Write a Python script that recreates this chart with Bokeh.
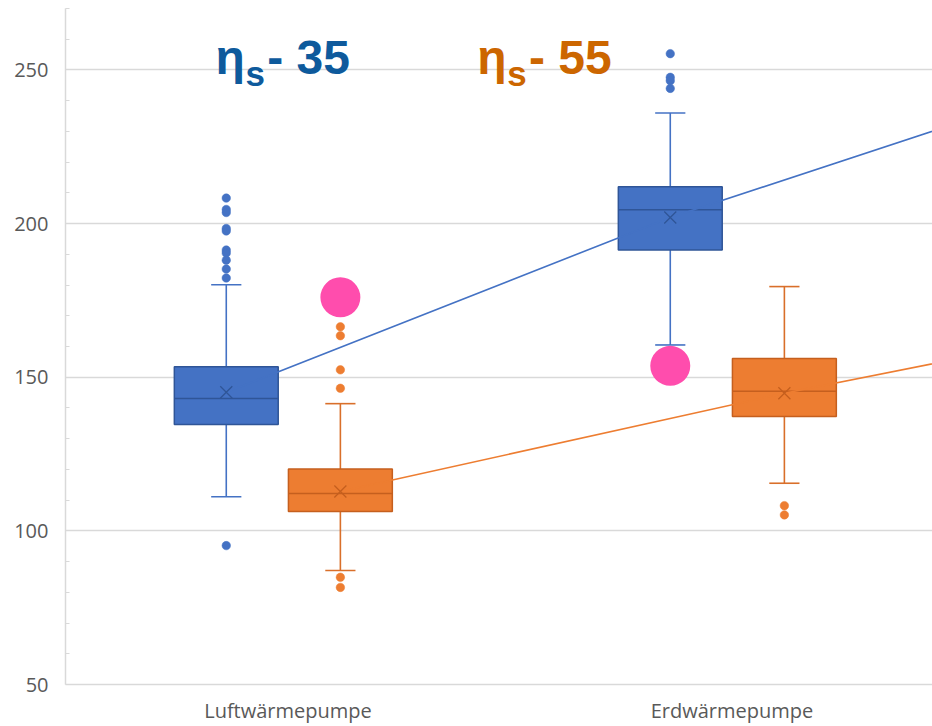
from bokeh.plotting import figure
from bokeh.models import FixedTicker, SingleIntervalTicker, Range1d
from bokeh.core.properties import value
from bokeh.embed import file_html
from bokeh.resources import INLINE

# Categories and box statistics
categories = ["Luftwärmepumpe", "Erdwärmepumpe"]

# eta_s 35 series
s35_q1 = [134.6, 191.4]
s35_median = [143.1, 204.5]
s35_q3 = [153.4, 212.0]
s35_low = [111.1, 160.5]
s35_high = [180.1, 236.0]
s35_mean = [145.1, 202.0]
s35_outliers = [
    [208.3, 204.6, 203.6, 198.4, 197.6, 191.4, 190.4, 188.1, 185.2, 182.3, 95.2],
    [255.3, 247.6, 246.5, 244.0],
]

# eta_s 55 series
s55_q1 = [106.3, 137.2]
s55_median = [112.2, 145.4]
s55_q3 = [120.1, 156.1]
s55_low = [87.1, 115.5]
s55_high = [141.4, 179.5]
s55_mean = [112.8, 144.8]
s55_outliers = [
    [166.4, 163.5, 152.4, 146.4, 84.9, 81.6],
    [108.2, 105.2],
]

# the mean lines run on toward a further category beyond the right edge
s35_mean_next = 249.5
s55_mean_next = 173.5

# highlighted reference values (eta_s 55 for Luft, eta_s 35 for Erd)
highlight_values = [176.0, 153.7]

BLUE = "#4472C4"
BLUE_DARK = "#2F5597"
ORANGE = "#ED7D31"
ORANGE_DARK = "#C55F1E"
PINK = "#FF4DAD"
TITLE_BLUE = "#0E5A9C"
TITLE_ORANGE = "#CC6600"

OFF35 = -0.139
OFF55 = 0.118
BOX_W = 0.234
CAP_W = 0.068

p = figure(width=932, height=726, output_backend="svg", toolbar_location=None,
           x_range=Range1d(-0.5011, 1.4516), y_range=Range1d(50, 270),
           min_border_left=65, min_border_right=0, min_border_top=8,
           min_border_bottom=42)
p.outline_line_color = None
p.background_fill_color = "white"
p.border_fill_color = "white"


def draw_series(off, q1, med, q3, low, high, mean, outliers, fill, dark, line):
    xs = [i + off for i in range(len(categories))]
    # whiskers and caps
    p.segment(x0=xs, y0=q3, x1=xs, y1=high, line_color=line, line_width=1.6)
    p.segment(x0=xs, y0=q1, x1=xs, y1=low, line_color=line, line_width=1.6)
    p.segment(x0=[x - CAP_W / 2 for x in xs], y0=high, x1=[x + CAP_W / 2 for x in xs], y1=high,
              line_color=line, line_width=1.6)
    p.segment(x0=[x - CAP_W / 2 for x in xs], y0=low, x1=[x + CAP_W / 2 for x in xs], y1=low,
              line_color=line, line_width=1.6)
    # box
    p.vbar(x=xs, width=BOX_W, bottom=q1, top=q3, fill_color=fill, line_color=dark, line_width=1.5)
    # median
    p.segment(x0=[x - BOX_W / 2 for x in xs], y0=med, x1=[x + BOX_W / 2 for x in xs], y1=med,
              line_color=dark, line_width=1.5)
    # outliers
    ox, oy = [], []
    for x, vals in zip(xs, outliers):
        ox += [x] * len(vals)
        oy += vals
    p.scatter(ox, oy, size=8.5, fill_color=fill, line_color=fill, line_width=0.5)
    return xs


x35 = draw_series(OFF35, s35_q1, s35_median, s35_q3, s35_low, s35_high, s35_mean,
                  s35_outliers, BLUE, BLUE_DARK, BLUE)
x55 = draw_series(OFF55, s55_q1, s55_median, s55_q3, s55_low, s55_high, s55_mean,
                  s55_outliers, ORANGE, ORANGE_DARK, "#D96F2A")

# mean lines connecting the category means
n = len(categories)
p.line(x35 + [n + OFF35], s35_mean + [s35_mean_next], line_color=BLUE, line_width=1.6)
p.line(x55 + [n + OFF55], s55_mean + [s55_mean_next], line_color=ORANGE, line_width=1.6)

# mean markers
p.scatter(x35, s35_mean, marker="x", size=17, line_color=BLUE_DARK, line_width=1.3)
p.scatter(x55, s55_mean, marker="x", size=17, line_color=ORANGE_DARK, line_width=1.3)

# highlighted points
p.scatter([x55[0], x35[1]], highlight_values, size=40, fill_color=PINK, line_color=None)

# series headings: eta with subscript s
for dx, label, color in [(0.0, "- 35", TITLE_BLUE), (0.5894, "- 55", TITLE_ORANGE)]:
    p.text(x=[-0.1633 + dx], y=[254.0], text=["η"], text_font=value("Liberation Sans"),
           text_font_style="bold", text_font_size="48px", text_color=color,
           text_align="left", text_baseline="alphabetic")
    p.text(x=[-0.0957 + dx], y=[248.7], text=["s"], text_font=value("Liberation Sans"),
           text_font_style="bold", text_font_size="35px", text_color=color,
           text_align="left", text_baseline="alphabetic")
    p.text(x=[-0.0468 + dx], y=[254.0], text=[label], text_font=value("Liberation Sans"),
           text_font_style="bold", text_font_size="48px", text_color=color,
           text_align="left", text_baseline="alphabetic")

# axes
p.xaxis.ticker = FixedTicker(ticks=list(range(n)))
p.xaxis.major_label_overrides = {i: c for i, c in enumerate(categories)}
p.xaxis.major_tick_line_color = None
p.xaxis.major_tick_in = 0
p.xaxis.major_tick_out = 0
p.xaxis.minor_tick_line_color = None
p.xaxis.minor_tick_in = 0
p.xaxis.minor_tick_out = 0
p.xaxis.axis_line_color = "#D9D9D9"
p.xaxis.axis_line_width = 1.5
p.xaxis.major_label_standoff = 12
p.xaxis.major_label_text_font = "Open Sans"
p.xaxis.major_label_text_font_size = "20px"
p.xaxis.major_label_text_color = "#595959"

p.yaxis.ticker = SingleIntervalTicker(interval=50, num_minor_ticks=5)
p.yaxis.axis_line_color = "#D9D9D9"
p.yaxis.axis_line_width = 1.5
p.yaxis.major_tick_line_color = None
p.yaxis.major_tick_in = 0
p.yaxis.major_tick_out = 0
p.yaxis.minor_tick_line_color = "#D9D9D9"
p.yaxis.minor_tick_in = 4
p.yaxis.minor_tick_out = 0
p.yaxis.major_label_standoff = 17
p.yaxis.major_label_text_font = "Open Sans"
p.yaxis.major_label_text_font_size = "20px"
p.yaxis.major_label_text_color = "#595959"

p.xgrid.grid_line_color = None
p.ygrid.grid_line_color = "#D9D9D9"
p.ygrid.grid_line_width = 1.5

open("out.html", "w").write(file_html(p, INLINE))
